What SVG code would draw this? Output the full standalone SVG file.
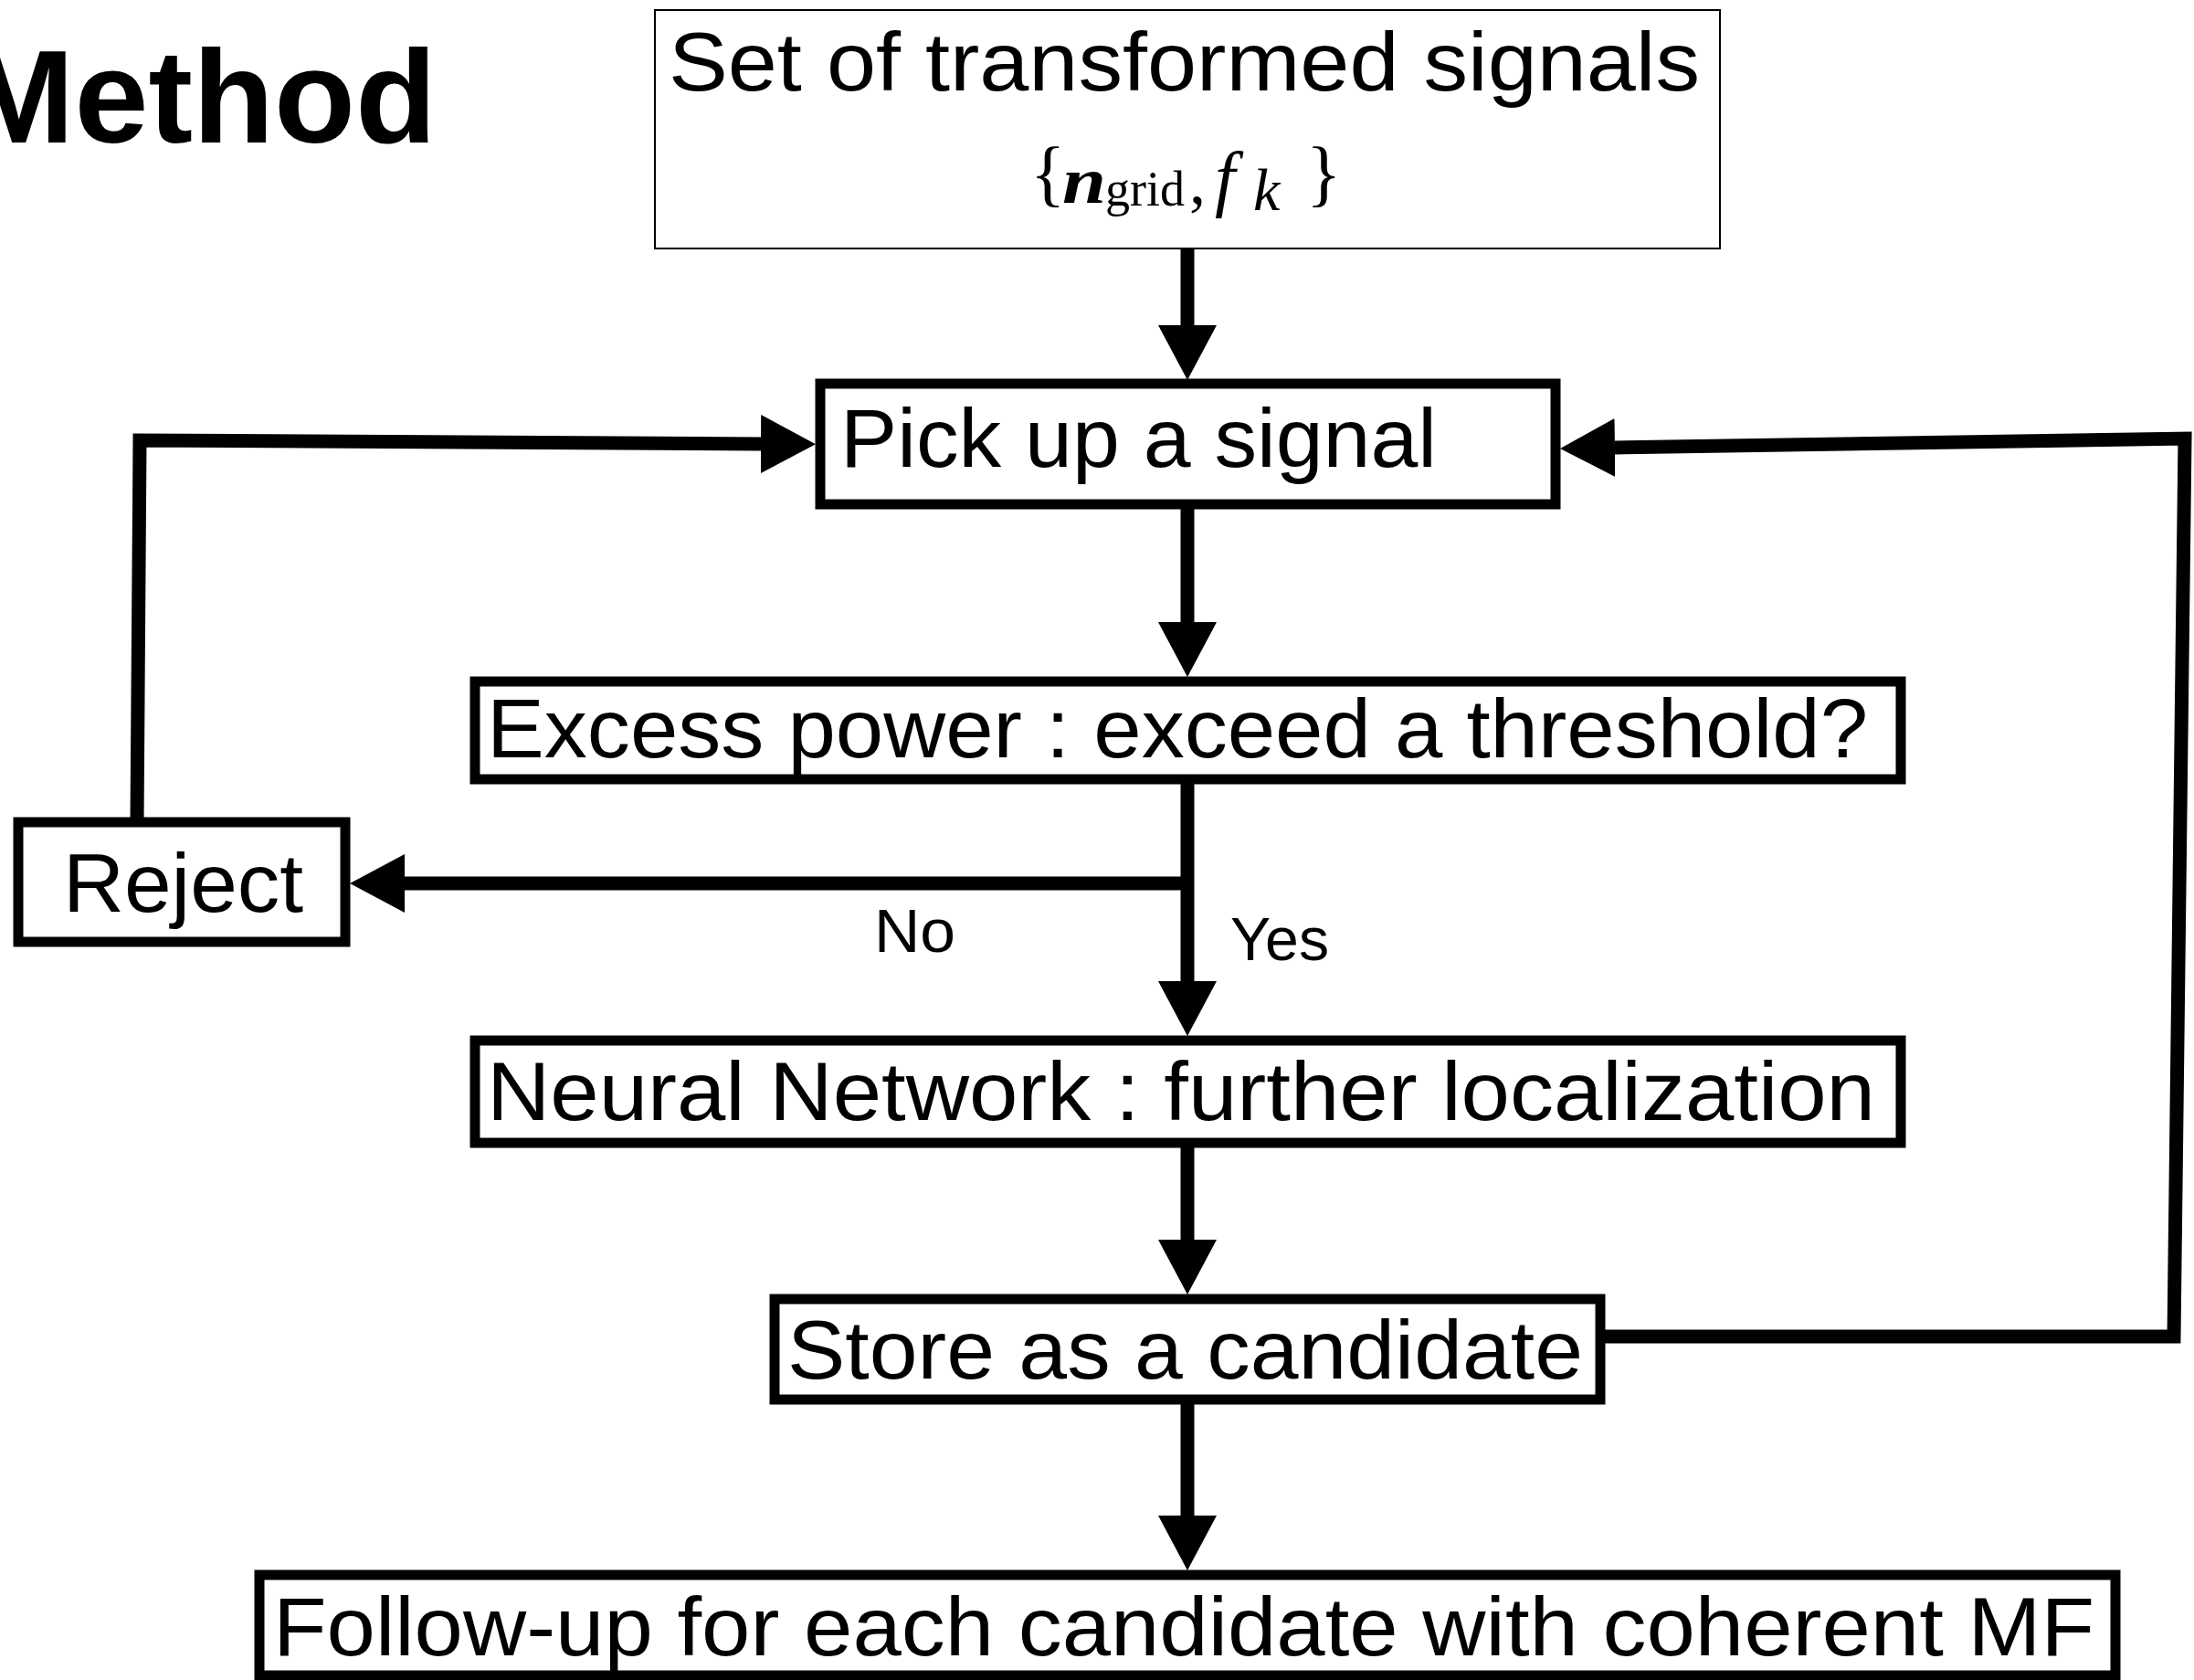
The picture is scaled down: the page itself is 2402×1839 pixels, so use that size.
<svg xmlns="http://www.w3.org/2000/svg" width="2402" height="1839" viewBox="0 0 2402 1839">
  <style>
    .box { fill: #ffffff; stroke: #000000; stroke-width: 11; }
    .thin { fill: #ffffff; stroke: #000000; stroke-width: 2; }
    .lbl { font-family: "Liberation Sans", Arial, sans-serif; font-size: 90px; fill: #000000; }
    .small { font-family: "Liberation Sans", Arial, sans-serif; font-size: 66px; fill: #000000; }
    .title { font-family: "Liberation Sans", Arial, sans-serif; font-size: 144px; font-weight: bold; fill: #000000; }
    .math { font-family: "Liberation Serif", "Times New Roman", serif; fill: #000000; }
    .conn { fill: none; stroke: #000000; stroke-width: 15; stroke-linejoin: miter; marker-end: url(#ah); }
  </style>
  <defs>
    <marker id="ah" viewBox="0 0 60 64" refX="0" refY="32" markerWidth="60" markerHeight="64" markerUnits="userSpaceOnUse" orient="auto">
      <path d="M0,0 L60,32 L0,64 z" fill="#000000"/>
    </marker>
  </defs>
  <rect width="2402" height="1839" fill="#ffffff"/>

  <text class="title" x="-40" y="156" textLength="518" lengthAdjust="spacingAndGlyphs">Method</text>

  <g id="connectors">
    <path class="conn" d="M1300,272 V356"/>
    <path class="conn" d="M1300,557 V681"/>
    <path class="conn" d="M1300,858 V1074"/>
    <path class="conn" d="M1307,967 H443"/>
    <path class="conn" d="M1300,1256 V1357"/>
    <path class="conn" d="M1300,1537 V1659"/>
    <path class="conn" d="M150,900 L153,482 L833,486"/>
    <path class="conn" d="M1757,1463 L2380,1463 L2392,480 L1768,490"/>
  </g>

  <g id="node-set">
    <rect class="thin" x="717" y="11" width="1166" height="261"/>
    <text class="lbl" x="732" y="99" font-size="92" textLength="1129" lengthAdjust="spacingAndGlyphs">Set of transformed signals</text>
    <text class="math" x="1128" y="216" font-size="80">{</text>
    <text class="math" x="1163" y="222" font-size="72" font-weight="bold" font-style="italic" textLength="48" lengthAdjust="spacingAndGlyphs">n</text>
    <text class="math" x="1210" y="225" font-size="54" textLength="87" lengthAdjust="spacingAndGlyphs">grid</text>
    <text class="math" x="1302" y="222" font-size="72">,</text>
    <text class="math" x="1330" y="222" font-size="80" font-style="italic">f</text>
    <text class="math" x="1372" y="230" font-size="66" font-style="italic">k</text>
    <text class="math" x="1430" y="216" font-size="80">}</text>
  </g>

  <g id="node-pick">
    <rect class="box" x="898" y="420" width="805" height="132"/>
    <text class="lbl" x="920" y="511" textLength="653" lengthAdjust="spacingAndGlyphs">Pick up a signal</text>
  </g>

  <g id="node-excess">
    <rect class="box" x="520" y="746" width="1561" height="107"/>
    <text class="lbl" x="533" y="829" textLength="1512" lengthAdjust="spacingAndGlyphs">Excess power : exceed a threshold?</text>
  </g>

  <g id="node-reject">
    <rect class="box" x="20" y="900" width="358" height="131"/>
    <text class="lbl" x="69" y="998" textLength="263" lengthAdjust="spacingAndGlyphs">Reject</text>
  </g>

  <g id="node-nn">
    <rect class="box" x="520" y="1139" width="1561" height="112"/>
    <text class="lbl" x="533" y="1226" textLength="1520" lengthAdjust="spacingAndGlyphs">Neural Network : further localization</text>
  </g>

  <g id="node-store">
    <rect class="box" x="848" y="1422" width="904" height="110"/>
    <text class="lbl" x="862" y="1509" textLength="871" lengthAdjust="spacingAndGlyphs">Store as a candidate</text>
  </g>

  <g id="node-follow">
    <rect class="box" x="284" y="1724" width="2032" height="110"/>
    <text class="lbl" x="299" y="1812" textLength="1994" lengthAdjust="spacingAndGlyphs">Follow-up for each candidate with coherent MF</text>
  </g>

  <g id="edge-labels">
    <text class="small" x="957" y="1042" textLength="89" lengthAdjust="spacingAndGlyphs">No</text>
    <text class="small" x="1347" y="1051" textLength="108" lengthAdjust="spacingAndGlyphs">Yes</text>
  </g>
</svg>
